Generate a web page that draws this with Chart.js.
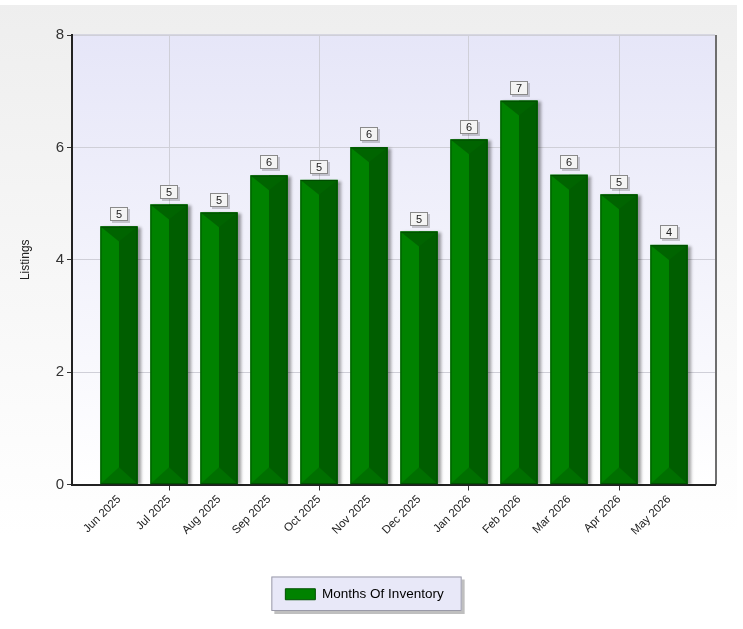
<!DOCTYPE html>
<html>
<head>
<meta charset="utf-8">
<script src="https://cdn.jsdelivr.net/npm/chart.js@4.4.1/dist/chart.umd.min.js"></script>
<style>
    html, body { margin: 0; padding: 0; background: #fff; }
    #chart { display: block; }
</style>
</head>
<body>
<canvas id="chart" width="743" height="629"></canvas>
<script>
let MONTHS = ["Jun 2025", "Jul 2025", "Aug 2025", "Sep 2025", "Oct 2025", "Nov 2025",
    "Dec 2025", "Jan 2026", "Feb 2026", "Mar 2026", "Apr 2026", "May 2026"]
let INVENTORY = [4.59, 4.98, 4.84, 5.5, 5.42, 6.0, 4.5, 6.14, 6.83, 5.51, 5.16, 4.26]
let Y_TICKS = [0, 2, 4, 6, 8]
let SERIES_NAME = "Months Of Inventory"
let Y_TITLE = "Listings"

const FONT = "Arial, 'Liberation Sans', sans-serif"

// background panel, plot gradient, bevelled bars and value boxes
let bevelPlugin = {
    id: "bevel",
    beforeDraw(chart) {
        let ctx = chart.ctx
        let area = chart.chartArea
        ctx.save()
        let bg = ctx.createLinearGradient(0, 0, 0, chart.height)
        bg.addColorStop(0, "#eeeeee")
        bg.addColorStop(0.85, "#ffffff")
        ctx.fillStyle = bg
        ctx.fillRect(0, 5, 737, chart.height - 5)

        let plotBg = ctx.createLinearGradient(0, area.top, 0, area.bottom)
        plotBg.addColorStop(0, "#e6e6f8")
        plotBg.addColorStop(1, "#ffffff")
        ctx.fillStyle = plotBg
        ctx.fillRect(area.left, area.top, area.right - area.left, area.bottom - area.top)
        ctx.fillStyle = "#d6d6e0"
        ctx.fillRect(area.left, area.top - 1, area.right - area.left, 1)
        ctx.fillStyle = "#6e6e6e"
        ctx.fillRect(area.right, area.top, 2, area.bottom - area.top)

        // legend frame
        let hit = chart.legend.legendHitBoxes[0]
        if (hit) {
            let fx = hit.left - 14, fy = hit.top - 11, fw = hit.width + 32, fh = hit.height + 21
            ctx.fillStyle = "rgba(0,0,0,0.25)"
            ctx.fillRect(fx + 3, fy + 3, fw, fh)
            ctx.fillStyle = "#e8e8f8"
            ctx.fillRect(fx, fy, fw, fh)
            ctx.strokeStyle = "#9a9aa8"
            ctx.lineWidth = 1
            ctx.strokeRect(fx + 0.5, fy + 0.5, fw - 1, fh - 1)
        }
        ctx.restore()
    },
    beforeDatasetDraw(chart) {
        let ctx = chart.ctx
        ctx.save()
        ctx.shadowColor = "rgba(0,0,0,0.4)"
        ctx.shadowOffsetX = 3
        ctx.shadowOffsetY = 1
        ctx.shadowBlur = 3
    },
    afterDatasetDraw(chart) {
        chart.ctx.restore()
    },
    afterDatasetsDraw(chart) {
        let ctx = chart.ctx
        let bars = chart.getDatasetMeta(0).data
        ctx.save()
        bars.forEach((bar, i) => {
            let {x, y, base, width} = bar.getProps(["x", "y", "base", "width"], true)
            let l = x - width / 2, r = x + width / 2
            let dTop = width * 0.4, dBottom = width * 0.45
            // right face
            ctx.fillStyle = "#005e00"
            ctx.fillRect(x, y, r - x, base - y)
            // top bevel
            ctx.fillStyle = "#006400"
            ctx.beginPath()
            ctx.moveTo(l, y); ctx.lineTo(r, y); ctx.lineTo(x, y + dTop); ctx.closePath()
            ctx.fill()
            // bottom bevel
            ctx.fillStyle = "#006f00"
            ctx.beginPath()
            ctx.moveTo(l, base); ctx.lineTo(r, base); ctx.lineTo(x, base - dBottom); ctx.closePath()
            ctx.fill()
            ctx.strokeStyle = "rgba(0,60,0,0.6)"
            ctx.lineWidth = 1
            ctx.strokeRect(l + 0.5, y + 0.5, width - 1, base - y - 1)

            // value box
            let label = String(Math.round(INVENTORY[i]))
            ctx.font = `11px ${FONT}`
            let bw = 18, bh = 14
            let bx = Math.round(x - bw / 2), by = Math.round(y - 6 - bh)
            ctx.fillStyle = "rgba(0,0,0,0.18)"
            ctx.fillRect(bx + 2, by + 2, bw, bh)
            ctx.fillStyle = "#f4f4f4"
            ctx.fillRect(bx, by, bw, bh)
            ctx.strokeStyle = "#8a8a8a"
            ctx.strokeRect(bx + 0.5, by + 0.5, bw - 1, bh - 1)
            ctx.fillStyle = "#222"
            ctx.textAlign = "center"
            ctx.textBaseline = "middle"
            ctx.fillText(label, bx + bw / 2, by + bh / 2 + 1)
        })
        ctx.restore()
    }
}

let ctx = document.getElementById("chart").getContext("2d")
let chart = new Chart(ctx, {
    type: "bar",
    data: {
        datasets: [{
            label: SERIES_NAME,
            data: INVENTORY.map((v, i) => ({x: i, y: v})),
            backgroundColor: "#008200",
            borderColor: "#004a00",
            borderWidth: 0,
            barThickness: 37,
        }]
    },
    options: {
        responsive: false,
        animation: false,
        devicePixelRatio: 1,
        layout: {padding: {left: 14, top: 35, right: 28, bottom: 18}},
        plugins: {
            tooltip: {enabled: false},
            legend: {
                position: "bottom",
                labels: {
                    boxWidth: 30,
                    boxHeight: 11,
                    color: "#333",
                    font: {family: FONT, size: 13.5},
                    generateLabels: (c) => [{
                        text: SERIES_NAME,
                        fillStyle: "#008200",
                        strokeStyle: "#005000",
                        lineWidth: 1,
                        datasetIndex: 0,
                    }]
                }
            }
        },
        scales: {
            x: {
                type: "linear",
                offset: false,
                min: -0.94,
                max: 11.92,
                afterBuildTicks: (s) => { s.ticks = MONTHS.map((m, i) => ({value: i})) },
                afterFit: (s) => { s.height = 93 },
                border: {color: "#222", width: 2},
                grid: {
                    offset: false,
                    color: (c) => c.tick && c.tick.value % 3 === 1 ? "#cfcfd8" : "transparent",
                    tickColor: (c) => c.tick && c.tick.value % 3 === 1 ? "#333" : "transparent",
                    tickLength: 6,
                },
                ticks: {
                    autoSkip: false,
                    minRotation: 45,
                    maxRotation: 45,
                    padding: 2,
                    color: "#222",
                    font: {family: FONT, size: 11.5},
                    callback: (v) => MONTHS[v] ?? "",
                }
            },
            y: {
                min: 0,
                max: 8,
                afterBuildTicks: (s) => { s.ticks = Y_TICKS.map(v => ({value: v})) },
                afterFit: (s) => { s.width = 58 },
                border: {color: "#222", width: 2},
                grid: {
                    color: (c) => c.tick && c.tick.value === 0 ? "transparent" : "#cfcfd8",
                    tickColor: "#333",
                    tickLength: 5,
                },
                ticks: {
                    color: "#333",
                    padding: 3,
                    font: {family: FONT, size: 15},
                },
                title: {
                    display: true,
                    text: Y_TITLE,
                    color: "#222",
                    font: {family: FONT, size: 12},
                    padding: {top: 4, bottom: 4},
                }
            }
        }
    },
    plugins: [bevelPlugin]
})
</script>
</body>
</html>
